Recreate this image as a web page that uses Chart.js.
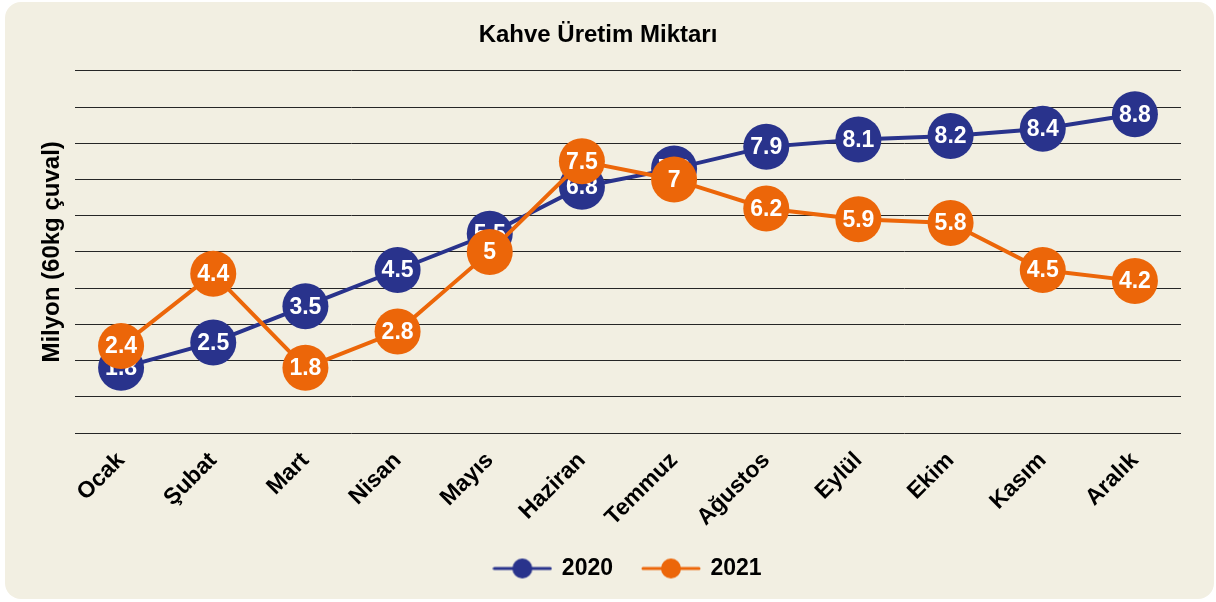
<!DOCTYPE html>
<html lang="tr">
<head>
<meta charset="utf-8">
<title>Kahve Üretim Miktarı</title>
<script src="https://cdn.jsdelivr.net/npm/chart.js@4.4.1/dist/chart.umd.min.js"></script>
<style>
    html, body { margin: 0; padding: 0; background: #ffffff; }
    #wrap { position: relative; width: 1216px; height: 602px; }
    #card { position: absolute; left: 5px; top: 2px; width: 1209px; height: 597px; background: #f2efe2; border-radius: 16px; }
    #chart { position: absolute; left: 0; top: 0; }
</style>
</head>
<body>
<div id="wrap">
    <div id="card"></div>
    <canvas id="chart" width="1216" height="602"></canvas>
</div>
<script>
const months = ['Ocak', 'Şubat', 'Mart', 'Nisan', 'Mayıs', 'Haziran', 'Temmuz', 'Ağustos', 'Eylül', 'Ekim', 'Kasım', 'Aralık'];
const values2020 = [1.8, 2.5, 3.5, 4.5, 5.5, 6.8, 7.3, 7.9, 8.1, 8.2, 8.4, 8.8];
const values2021 = [2.4, 4.4, 1.8, 2.8, 5, 7.5, 7, 6.2, 5.9, 5.8, 4.5, 4.2];

const blue = '#29338c';
const orange = '#ec6609';
const fontFamily = '"Liberation Sans", Arial, Helvetica, sans-serif';

// small line + dot picture for the legend
function legendIcon(color) {
    const c = document.createElement('canvas');
    c.width = 60;
    c.height = 24;
    const g = c.getContext('2d');
    g.strokeStyle = color;
    g.lineWidth = 3;
    g.lineCap = 'round';
    g.beginPath();
    g.moveTo(2, 12);
    g.lineTo(58, 12);
    g.stroke();
    g.fillStyle = color;
    g.beginPath();
    g.arc(30, 12, 10, 0, Math.PI * 2);
    g.fill();
    return c;
}

// white value text inside each dot, drawn right after its own dataset
const pointLabels = {
    id: 'pointLabels',
    afterDatasetDraw(chart, args) {
        const ctx = chart.ctx;
        const data = chart.data.datasets[args.index].data;
        ctx.save();
        ctx.fillStyle = '#ffffff';
        ctx.font = 'bold 23px ' + fontFamily;
        ctx.textAlign = 'center';
        ctx.textBaseline = 'middle';
        args.meta.data.forEach((pt, i) => {
            ctx.fillText(String(data[i]), pt.x, pt.y + 1);
        });
        ctx.restore();
    }
};

Chart.defaults.font.family = fontFamily;
Chart.defaults.color = '#000000';

new Chart(document.getElementById('chart'), {
    type: 'line',
    data: {
        labels: months,
        datasets: [
            {
                label: '2020',
                data: values2020,
                borderColor: blue,
                backgroundColor: blue,
                borderWidth: 4,
                pointRadius: 23,
                pointBorderWidth: 0,
                pointBackgroundColor: blue,
                tension: 0,
                order: 1
            },
            {
                label: '2021',
                data: values2021,
                borderColor: orange,
                backgroundColor: orange,
                borderWidth: 4,
                pointRadius: 23,
                pointBorderWidth: 0,
                pointBackgroundColor: orange,
                tension: 0,
                order: 0
            }
        ]
    },
    options: {
        responsive: false,
        animation: false,
        events: [],
        layout: {
            padding: { left: 15, right: 35, top: 0, bottom: 12 }
        },
        scales: {
            x: {
                offset: true,
                grid: { display: false, drawTicks: false },
                border: { display: false },
                ticks: {
                    font: { size: 23, weight: 'bold' },
                    color: '#000000',
                    maxRotation: 45,
                    minRotation: 45,
                    padding: 14
                },
                afterFit(scale) { scale.height = 94; }
            },
            y: {
                min: 0,
                max: 10,
                grid: { color: '#262626', lineWidth: 1, drawTicks: false },
                border: { display: false },
                ticks: { display: false, stepSize: 1 },
                title: {
                    display: true,
                    text: 'Milyon (60kg çuval)',
                    font: { size: 24, weight: 'bold' },
                    color: '#000000',
                    padding: { top: 23, bottom: 0 }
                },
                afterFit(scale) { scale.width = 60; }
            }
        },
        plugins: {
            title: {
                display: true,
                text: 'Kahve Üretim Miktarı',
                font: { size: 24, weight: 'bold' },
                color: '#000000',
                padding: { top: 21, bottom: 21 }
            },
            legend: {
                position: 'bottom',
                fullSize: false,
                labels: {
                    usePointStyle: true,
                    pointStyleWidth: 56,
                    boxHeight: 23,
                    padding: 30,
                    color: '#000000',
                    font: { size: 23, weight: 'bold' },
                    sort: (a, b) => a.datasetIndex - b.datasetIndex,
                    generateLabels(chart) {
                        const items = Chart.defaults.plugins.legend.labels.generateLabels(chart);
                        items.forEach(item => {
                            item.pointStyle = legendIcon(chart.data.datasets[item.datasetIndex].borderColor);
                        });
                        return items;
                    }
                }
            },
            tooltip: { enabled: false }
        }
    },
    plugins: [pointLabels]
});
</script>
</body>
</html>
